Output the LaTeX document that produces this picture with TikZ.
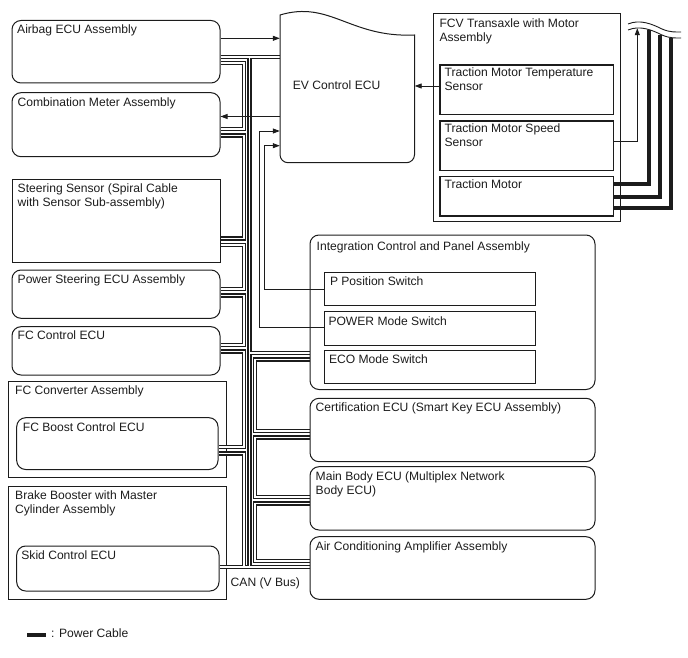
\documentclass[tikz,border=0pt]{standalone}
\usepackage{fontspec}
\setmainfont{Liberation Sans}
\usetikzlibrary{arrows.meta,fit,calc}
\definecolor{ink}{RGB}{28,28,28}
\pgfdeclarelayer{back}
\pgfdeclarelayer{bus}
\pgfsetlayers{back,bus,main}
\newcommand\twoline[2]{\vtop{\hbox{#1}\hbox{#2}}}
\begin{document}
\begin{tikzpicture}[x=1pt,y=-1pt,
  every node/.style={font=\fontsize{12.1}{14.3}\selectfont, text=ink},
  box/.style={draw=ink, line width=1pt, inner sep=0pt},
  rbox/.style={box, rounded corners=9pt},
  sbox/.style={box, line width=1.3pt},
  txt/.style={anchor=base west, inner sep=0pt},
  sig/.style={draw=ink, line width=0.85pt},
  arr/.style={sig, -{Triangle[length=7pt,width=5pt]}},
  pwr/.style={draw=ink, line width=4pt}]
\useasboundingbox (0,0) rectangle (688,658);

% ECU boxes
\node[inner sep=0pt, fit={(280,12) (414.5,162.7)}] (ev) {};
\node[rbox, fit={(12,20.5) (220,83)}] (airbag) {};
\node[rbox, fit={(12,92.7) (220,156.7)}] (meter) {};
\node[box, fit={(12,179) (220,262.3)}] (steer) {};
\node[rbox, fit={(12,270) (220,318.3)}] (ps) {};
\node[rbox, fit={(12,326.7) (220,375)}] (fcc) {};
\node[rbox, fit={(16.7,417.7) (218,469.5)}] (fcb) {};
\node[rbox, fit={(16.7,546) (219,591)}] (skid) {};
\node[sbox, fit={(440,65) (613.3,114.3)}] (temp) {};
\node[sbox, fit={(440,121) (613.3,170.7)}] (speed) {};
\node[sbox, fit={(440,176.7) (613.3,216)}] (tmotor) {};
\node[rbox, fit={(310,235) (595,389.5)}] (intc) {};
\node[box, fit={(324.3,272.3) (535,305.7)}] (ppos) {};
\node[box, fit={(324.3,311.7) (535,345)}] (pmode) {};
\node[box, fit={(324.3,350) (535,383.3)}] (eco) {};
\node[rbox, fit={(310,398.3) (595,461.7)}] (cert) {};
\node[rbox, fit={(310,466.7) (595,530)}] (mainb) {};
\node[rbox, fit={(310,536.7) (595,599.3)}] (ac) {};

% outer assemblies (behind the bus)
\begin{pgfonlayer}{back}
\node[box, fit={(8.5,381) (226.5,477)}] (fcconv) {};
\node[box, fit={(8.5,486) (226.5,599.5)}] (brake) {};
\node[box, fit={(433.3,14) (620.7,221.7)}] (fcv) {};
\end{pgfonlayer}

% CAN bus (double line tubes)
\begin{pgfonlayer}{bus}
\foreach \lw/\lc in {4.2pt/ink, 1.8pt/white}{
  \draw[line width=\lw, draw=\lc]
    (airbag.east |- 0,57) -- (ev.west |- 0,57)
    (249.5,57) -- (249.5,567)
    (airbag.east |- 0,63) -- (244,63) -- (244,129) -- (meter.east |- 0,129)
    (meter.east |- 0,135.5) -- (244,135.5) -- (244,238.5) -- (steer.east |- 0,238.5)
    (steer.east |- 0,245) -- (244,245) -- (244,289) -- (ps.east |- 0,289)
    (ps.east |- 0,295.5) -- (244,295.5) -- (244,345) -- (fcc.east |- 0,345)
    (fcc.east |- 0,351.5) -- (244,351.5) -- (244,447) -- (fcb.east |- 0,447)
    (fcb.east |- 0,453.5) -- (244,453.5) -- (244,567)
    (skid.east |- 0,567) -- (ac.west |- 0,567)
    (249.5,353) -- (intc.west |- 0,353)
    (intc.west |- 0,359.5) -- (255,359.5) -- (255,431) -- (cert.west |- 0,431)
    (cert.west |- 0,437.5) -- (255,437.5) -- (255,497) -- (mainb.west |- 0,497)
    (mainb.west |- 0,503.5) -- (255,503.5) -- (255,561) -- (ac.west |- 0,561);
}
\end{pgfonlayer}

% EV Control ECU shape
\draw[ink, line width=1pt, fill=white]
  (280,15) .. controls (330,0) and (350,38) .. (414.5,35)
  -- (414.5,154.7) .. controls (414.5,159.1) and (410.9,162.7) .. (406.5,162.7)
  -- (288,162.7) .. controls (283.6,162.7) and (280,159.1) .. (280,154.7) -- cycle;

% break symbol
\draw[ink, line width=0.9pt] (628,24) .. controls (640,19) and (652,24) .. (662,29)
  .. controls (670,32.5) and (676,32) .. (681,32);
\draw[ink, line width=0.9pt] (628,30) .. controls (640,25) and (652,30) .. (662,35)
  .. controls (670,38.5) and (676,38) .. (681,38);
\coordinate (brk0) at (637.3,28.2);
\coordinate (brk1) at (648.7,29.8);
\coordinate (brk2) at (660.3,34.6);
\coordinate (brk3) at (671.3,37.8);

% signal lines
\draw[arr] (airbag.east |- 0,38.3) -- (ev.west |- 0,38.3);
\draw[arr] (ev.west |- 0,116.5) -- (meter.east |- 0,116.5);
\draw[arr] (ppos.west |- 0,289) -- (264.3,289) -- (264.3,145.7) -- (ev.west |- 0,145.7);
\draw[arr] (pmode.west |- 0,327) -- (259.3,327) -- (259.3,131) -- (ev.west |- 0,131);
\draw[arr] (temp.west |- 0,86) -- (ev.east |- 0,86);
\draw[arr] (speed.east |- 0,141.7) -- (brk0 |- 0,141.7) -- (brk0);

% power cables
\draw[pwr] (tmotor.east |- 0,183.7) -- (brk1 |- 0,183.7) -- (brk1);
\draw[pwr] (tmotor.east |- 0,196.5) -- (brk2 |- 0,196.5) -- (brk2);
\draw[pwr] (tmotor.east |- 0,208.3) -- (brk3 |- 0,208.3) -- (brk3);

% texts
\node[txt] (airbag-t) at ($(airbag.north west)+(5.5,13.8)$) {Airbag ECU Assembly};
\node[txt] (meter-t) at ($(meter.north west)+(6,14)$) {Combination Meter Assembly};
\node[txt] (steer-t) at ($(steer.north west)+(6,14)$) {\twoline{Steering Sensor (Spiral Cable}{with Sensor Sub-assembly)}};
\node[txt] (ps-t) at ($(ps.north west)+(6,13.5)$) {Power Steering ECU Assembly};
\node[txt] (fcc-t) at ($(fcc.north west)+(6,13.5)$) {FC Control ECU};
\node[txt] (fcconv-t) at ($(fcconv.north west)+(7,14)$) {FC Converter Assembly};
\node[txt] (fcb-t) at ($(fcb.north west)+(6.5,14.3)$) {FC Boost Control ECU};
\node[txt] (brake-t) at ($(brake.north west)+(7,14)$) {\twoline{Brake Booster with Master}{Cylinder Assembly}};
\node[txt] (skid-t) at ($(skid.north west)+(5,13.8)$) {Skid Control ECU};
\node[txt] (ev-t) at (292.7,90) {EV Control ECU};
\node[txt] (fcv-t) at ($(fcv.north west)+(6.5,14)$) {\twoline{FCV Transaxle with Motor}{Assembly}};
\node[txt] (temp-t) at ($(temp.north west)+(5,12)$) {\twoline{Traction Motor Temperature}{Sensor}};
\node[txt] (speed-t) at ($(speed.north west)+(5,12.3)$) {\twoline{Traction Motor Speed}{Sensor}};
\node[txt] (tmotor-t) at ($(tmotor.north west)+(5,12.6)$) {Traction Motor};
\node[txt] (intc-t) at ($(intc.north west)+(7,15.5)$) {Integration Control and Panel Assembly};
\node[txt] (ppos-t) at ($(ppos.north west)+(6,13.8)$) {P Position Switch};
\node[txt] (pmode-t) at ($(pmode.north west)+(4.5,14)$) {POWER Mode Switch};
\node[txt] (eco-t) at ($(eco.north west)+(5,14)$) {ECO Mode Switch};
\node[txt] (cert-t) at ($(cert.north west)+(6,13.8)$) {Certification ECU (Smart Key ECU Assembly)};
\node[txt] (mainb-t) at ($(mainb.north west)+(6,13.8)$) {\twoline{Main Body ECU (Multiplex Network}{Body ECU)}};
\node[txt] (ac-t) at ($(ac.north west)+(6,13.8)$) {Air Conditioning Amplifier Assembly};
\node[txt] (can) at (230.5,586) {CAN (V Bus)};

% legend
\node[fill=ink, inner sep=0pt, fit={(27,633) (46,637.3)}] (leg) {};
\node[txt] (leg-t) at (51,637.7) {: Power Cable};
\end{tikzpicture}
\end{document}
